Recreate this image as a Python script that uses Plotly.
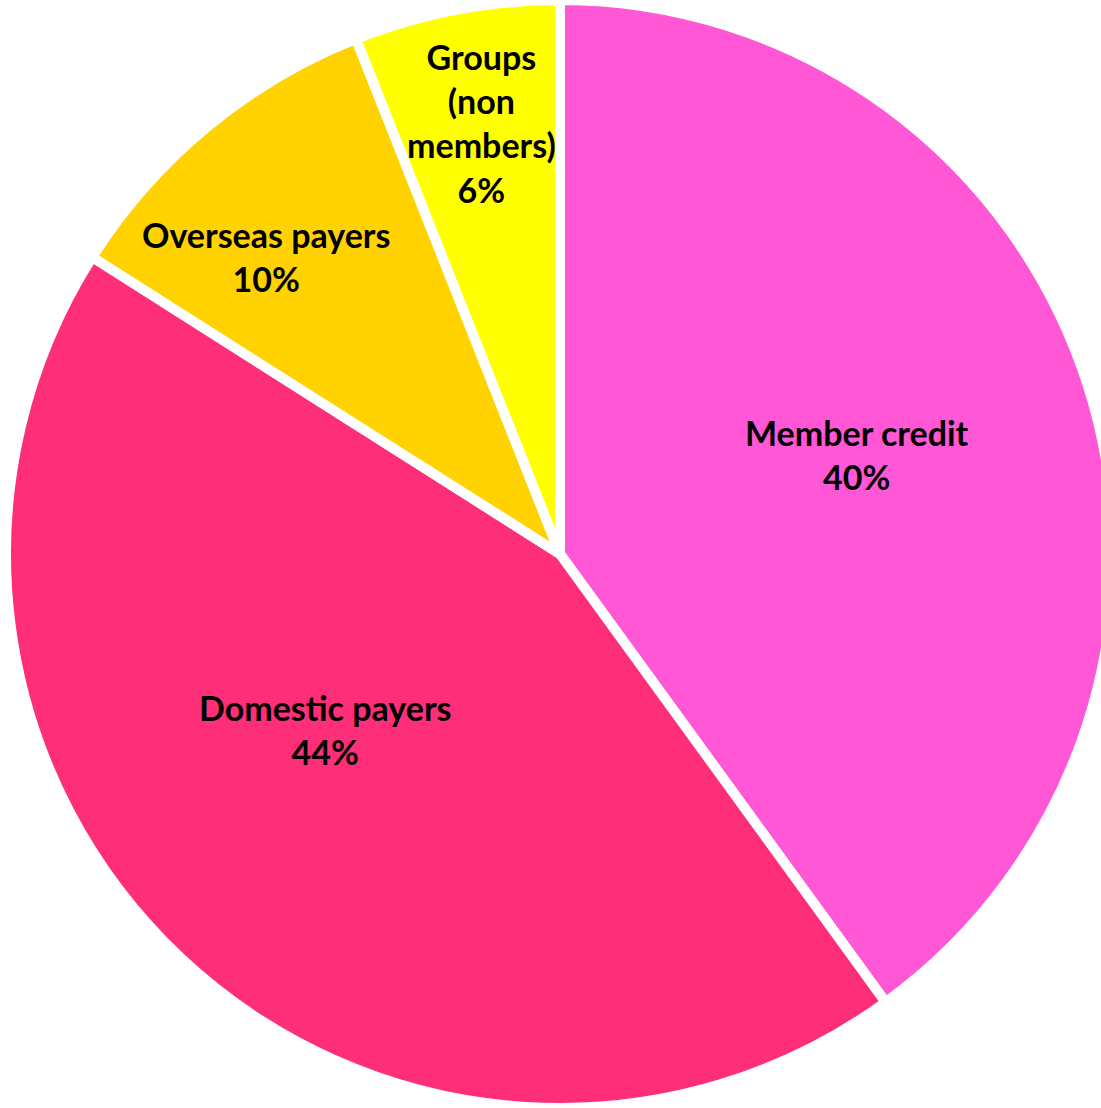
import math
import plotly.graph_objects as go

# Income sources, in drawing order (clockwise from 12 o'clock)
categories = ["Member credit", "Domestic payers", "Overseas payers", "Groups (non members)"]
shares = [40, 44, 10, 6]
label_lines = [
    ["Member credit"],
    ["Domestic payers"],
    ["Overseas payers"],
    ["Groups", "(non", "members)"],
]
colors = ["#FF57D6", "#FF2E79", "#FFD200", "#FFFF00"]

# label placement: fraction of the radius and angular nudge (degrees)
label_radius = [0.565, 0.53, 0.755, 0.79]
label_nudge = [-0.5, 10.0, -5.0, 0.5]

W, H = 1120, 1108
R = min(W, H) / 2

fig = go.Figure(
    go.Pie(
        labels=categories,
        values=shares,
        sort=False,
        direction="clockwise",
        rotation=0,
        marker=dict(colors=colors, line=dict(color="white", width=10)),
        textinfo="none",
        hoverinfo="label+percent",
        showlegend=False,
        domain=dict(x=[0, 1], y=[0, 1]),
    )
)

total = sum(shares)
cum = 0
annotations = []
for lines, v, rf, nudge in zip(label_lines, shares, label_radius, label_nudge):
    mid = (cum + v / 2) / total * 360 + nudge
    cum += v
    th = math.radians(mid)
    x = 0.5 + rf * R * math.sin(th) / W
    y = 0.5 + rf * R * math.cos(th) / H
    pct = f"{round(v / total * 100)}%"
    annotations.append(
        dict(
            x=x, y=y, xref="paper", yref="paper",
            xanchor="center", yanchor="middle",
            text="<br>".join(lines + [pct]),
            showarrow=False,
            align="center",
            font=dict(family="Lato", size=34, color="black", weight="bold"),
        )
    )

fig.update_layout(
    width=W,
    height=H,
    margin=dict(l=0, r=0, t=0, b=0),
    paper_bgcolor="white",
    plot_bgcolor="white",
    annotations=annotations,
)

# the pie runs slightly past the right edge of the page; keep the page free of scrollbars
fig.write_html(
    "out.html",
    post_script="document.documentElement.style.overflow='hidden';document.body.style.overflow='hidden';",
)
